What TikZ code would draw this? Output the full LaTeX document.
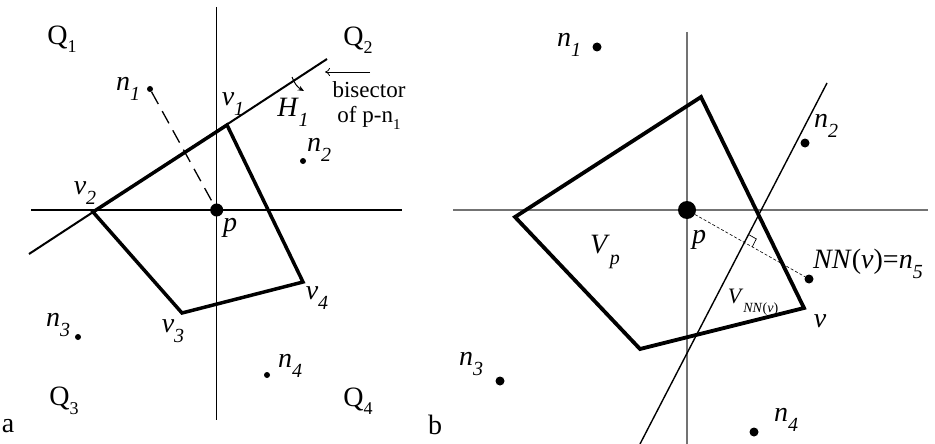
\documentclass[tikz,border=0pt]{standalone}
\usepackage{fontspec}
\setmainfont{Liberation Serif}
\usetikzlibrary{arrows.meta}
\newcommand\ilab[2]{\textit{#1}\raisebox{-0.36em}{\fontsize{20}{20}\selectfont\textit{#2}}}
\newcommand\qlab[1]{Q\raisebox{-0.3em}{\fontsize{18}{18}\selectfont #1}}
\begin{document}
\begin{tikzpicture}[x=1pt,y=-1pt,
  axis/.style={line width=1.4pt},
  axisg/.style={line width=1.4pt, black!55},
  bis/.style={line width=2pt},
  poly/.style={line width=3.5pt, line join=miter},
  sdot/.style={circle, fill, inner sep=0pt, minimum size=6pt},
  mdot/.style={circle, fill, inner sep=0pt, minimum size=9pt},
  pdot/.style={circle, fill, inner sep=0pt, minimum size=13pt},
  pdotb/.style={circle, fill, inner sep=0pt, minimum size=18pt},
  lab/.style={font=\fontsize{28}{28}\selectfont, inner sep=0pt},
  qtext/.style={font=\fontsize{28}{28}\selectfont, inner sep=0pt},
  small/.style={font=\fontsize{23}{23}\selectfont, inner sep=0pt}]
\useasboundingbox (0,0) rectangle (935,444);
% ---------------- panel a ----------------
\coordinate (ayt) at (216.7,7);
\coordinate (ayb) at (216.7,420);
\coordinate (axl) at (31,210);
\coordinate (axr) at (402,210);
\draw[axis] (ayt) -- (ayb);
\draw[axis] (axl) -- (axr);
\coordinate (bl) at (29,254);
\coordinate (br) at (327,59);
\draw[bis] (bl) -- (br);
\coordinate (v1) at (227,125);
\coordinate (v2) at (93,212);
\coordinate (v3) at (182,313);
\coordinate (v4) at (303,282);
\draw[poly] (v2) -- (v1) -- (v4) -- (v3) -- cycle;
\node[sdot] (n1) at (150,89) {};
\node[sdot] (n2) at (303,161) {};
\node[sdot] (n3) at (78,337) {};
\node[sdot] (n4) at (267,375) {};
\node[pdot] (p) at (216.7,210) {};
\draw[line width=1.3pt, dash pattern=on 14pt off 8pt] (n1) -- (p);
\coordinate (hs) at (292,77);
\coordinate (he) at (304,91);
\draw[line width=1pt, -{Stealth[length=6pt,width=5pt]}] (hs) to[bend right=20] (he);
\coordinate (as) at (370,72);
\coordinate (ae) at (325,72);
\draw[line width=0.8pt, -{To[length=5pt,width=8pt]}] (as) -- (ae);
\node[qtext] (q1) at (62,39) {\qlab{1}};
\node[qtext] (q2) at (358,40) {\qlab{2}};
\node[qtext] (q3) at (64,401) {\qlab{3}};
\node[qtext] (q4) at (358,401) {\qlab{4}};
\node[qtext] (la) at (8,426) {a};
\node[lab] (ln1) at (128,89) {\ilab{n}{1}};
\node[lab] (lv1) at (233,104) {\ilab{v}{1}};
\node[lab] (lh1) at (293,112) {\ilab{H}{1}};
\node[small] (lbis) at (369,90) {bisector};
\node[small] (lof) at (369,118) {of p-n\raisebox{-0.3em}{\fontsize{15}{15}\selectfont 1}};
\node[lab] (ln2) at (319,150) {\ilab{n}{2}};
\node[lab] (lv2) at (85,193) {\ilab{v}{2}};
\node[lab] (lp) at (230,228) {\textit{p}};
\node[lab] (lv4) at (317,298) {\ilab{v}{4}};
\node[lab] (lv3) at (173,331) {\ilab{v}{3}};
\node[lab] (ln3) at (58,325) {\ilab{n}{3}};
\node[lab] (ln4) at (290,366) {\ilab{n}{4}};
% ---------------- panel b ----------------
\coordinate (byt) at (687,32);
\coordinate (byb) at (687,444);
\coordinate (bxl) at (453,210);
\coordinate (bxr) at (928,210);
\draw[axisg] (byt) -- (byb);
\draw[axisg] (bxl) -- (bxr);
\coordinate (cb1) at (827,83);
\coordinate (cb2) at (640,444);
\draw[line width=1.4pt] (cb1) -- (cb2);
\coordinate (T) at (701,97);
\coordinate (L) at (515,217);
\coordinate (B) at (640,349);
\coordinate (V) at (804,308);
\draw[poly, line width=3.8pt] (T) -- (L) -- (B) -- (V) -- cycle;
\node[pdotb] (pb) at (687,210) {};
\node[mdot] (m1) at (597,47) {};
\node[mdot] (m2) at (805,143) {};
\node[mdot] (m3) at (500,381) {};
\node[mdot] (m4) at (754,432) {};
\node[mdot] (m5) at (809,279) {};
\draw[line width=0.6pt, dash pattern=on 3pt off 2pt] (pb) -- (m5);
\coordinate (ra) at (748.5,234.5);
\coordinate (rb) at (756.3,238.9);
\coordinate (rc) at (752.2,246.9);
\draw[line width=0.7pt] (ra) -- (rb) -- (rc);
\node[lab] (lm1) at (569,45) {\ilab{n}{1}};
\node[lab] (lm2) at (826,126) {\ilab{n}{2}};
\node[lab] (lm3) at (471,364) {\ilab{n}{3}};
\node[lab] (lm4) at (786,420) {\ilab{n}{4}};
\node[lab] (lm5) at (868,264) {\textit{NN}(\textit{v})=\ilab{n}{5}};
\node[lab] (lvp) at (605,252) {\ilab{V}{p}};
\node[lab] (lpb) at (699,240) {\textit{p}};
\node[inner sep=0pt, font=\fontsize{22}{22}\selectfont] (lvnn) at (753,302) {\textit{V}\raisebox{-0.4em}{\fontsize{14}{14}\selectfont\textit{NN}(\textit{v})}};
\node[lab] (lv) at (820,321) {\textit{v}};
\node[qtext] (lb) at (435,425) {b};
\end{tikzpicture}
\end{document}
